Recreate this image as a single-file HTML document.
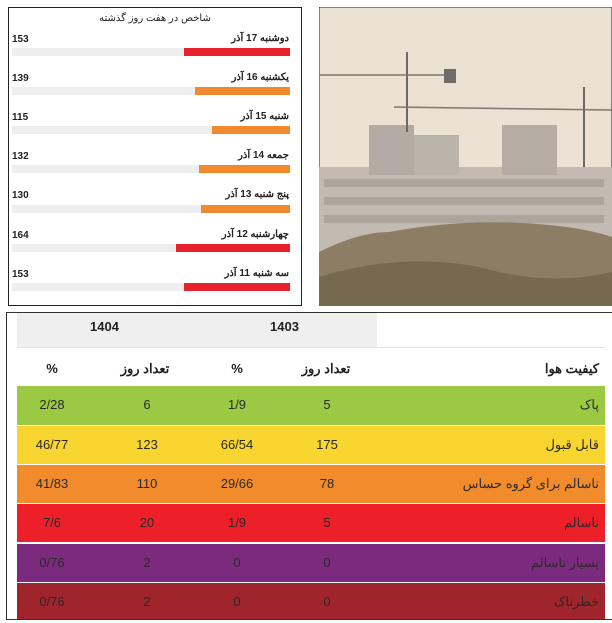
<!DOCTYPE html>
<html><head><meta charset="utf-8"><style>
*{margin:0;padding:0;box-sizing:border-box}
body{width:612px;height:623px;background:#fff;position:relative;overflow:hidden;font-family:"Liberation Sans","Noto Sans CJK SC",sans-serif;color:#222}
.abs{position:absolute}
#left{left:8px;top:7px;width:294px;height:299px;border:1px solid #222}
.lbl{position:absolute;font-size:10px;font-weight:bold;color:#222}
.track{position:absolute;left:4px;width:278px;height:8px;background:#eeeeee}
.bar{position:absolute;right:0;top:0;height:8px}
.tbl{left:6px;top:312px;width:610px;height:308px;border-left:1px solid #333;border-bottom:1px solid #333;border-top:1px solid #333}
.row{position:absolute;left:17px;width:588px;height:38px;font-size:13px;color:#2a2a2a}
.row span{position:absolute;top:11px;transform:translateX(-50%)}
.row .nm{right:6px;transform:none;direction:rtl}
</style></head><body>
<div id="left" class="abs">
<div class="lbl" style="left:0;width:292px;text-align:center;top:5px;font-weight:normal;direction:rtl">شاخص در هفت روز گذشته</div>
</div>
<div class="abs" style="left:0;top:0;width:310px;height:310px">
 <div class="lbl" style="left:12px;top:34px">153</div><div class="lbl" style="right:21px;top:33px;direction:rtl">دوشنبه 17 آذر</div>
 <div class="track" style="left:12px;top:48px"><div class="bar" style="width:106px;background:#e8202a"></div></div>
 <div class="lbl" style="left:12px;top:73px">139</div><div class="lbl" style="right:21px;top:72px;direction:rtl">یکشنبه 16 آذر</div>
 <div class="track" style="left:12px;top:87px"><div class="bar" style="width:95px;background:#f08a2c"></div></div>
 <div class="lbl" style="left:12px;top:112px">115</div><div class="lbl" style="right:21px;top:111px;direction:rtl">شنبه 15 آذر</div>
 <div class="track" style="left:12px;top:126px"><div class="bar" style="width:78px;background:#f08a2c"></div></div>
 <div class="lbl" style="left:12px;top:151px">132</div><div class="lbl" style="right:21px;top:150px;direction:rtl">جمعه 14 آذر</div>
 <div class="track" style="left:12px;top:165px"><div class="bar" style="width:91px;background:#f08a2c"></div></div>
 <div class="lbl" style="left:12px;top:190px">130</div><div class="lbl" style="right:21px;top:189px;direction:rtl">پنج شنبه 13 آذر</div>
 <div class="track" style="left:12px;top:205px"><div class="bar" style="width:89px;background:#f08a2c"></div></div>
 <div class="lbl" style="left:12px;top:230px">164</div><div class="lbl" style="right:21px;top:229px;direction:rtl">چهارشنبه 12 آذر</div>
 <div class="track" style="left:12px;top:244px"><div class="bar" style="width:114px;background:#e8202a"></div></div>
 <div class="lbl" style="left:12px;top:269px">153</div><div class="lbl" style="right:21px;top:268px;direction:rtl">سه شنبه 11 آذر</div>
 <div class="track" style="left:12px;top:283px"><div class="bar" style="width:106px;background:#e8202a"></div></div>
</div>
<svg class="abs" style="left:319px;top:7px" width="293" height="299" viewBox="0 0 293 299">
<rect width="293" height="299" fill="#ebe2d4" stroke="#222" stroke-width="1"/>
<rect x="0" y="160" width="293" height="110" fill="#c3bbb1"/>
<rect x="50" y="118" width="45" height="50" fill="#b3aca4"/>
<rect x="95" y="128" width="45" height="40" fill="#bbb4ab"/>
<rect x="183" y="118" width="55" height="50" fill="#b5ada4"/>
<g fill="#aca59d"><rect x="5" y="172" width="280" height="8"/><rect x="5" y="190" width="280" height="8"/><rect x="5" y="208" width="280" height="8"/></g>
<g stroke="#6c6a66" stroke-width="2" fill="none"><line x1="88" y1="45" x2="88" y2="125"/><line x1="265" y1="80" x2="265" y2="160"/></g>
<g stroke="#7c7872" stroke-width="1.5"><line x1="0" y1="68" x2="135" y2="68"/><line x1="75" y1="100" x2="293" y2="103"/></g>
<rect x="125" y="62" width="12" height="14" fill="#6f6b66"/>
<path d="M0 299 L0 245 Q40 225 70 225 Q150 210 230 218 Q270 222 293 230 L293 299 Z" fill="#8d7d64"/>
<path d="M0 299 L0 270 Q80 245 160 260 Q230 280 293 265 L293 299Z" fill="#76694f"/>
</svg>
<div class="abs tbl"></div>
<div class="abs" style="left:17px;top:313px;width:360px;height:34px;background:#efefef"></div>
<div class="abs" style="left:90px;top:319px;font-size:13px;font-weight:bold">1404</div>
<div class="abs" style="left:270px;top:319px;font-size:13px;font-weight:bold">1403</div>
<div class="abs" style="left:17px;top:347px;width:588px;height:1px;background:#e4e4e4"></div>
<div class="row" style="top:350px;font-weight:bold;color:#222"><span style="left:35px">%</span><span style="left:128px">تعداد روز</span><span style="left:220px">%</span><span style="left:309px">تعداد روز</span><span class="nm">کیفیت هوا</span></div>
<div class="row" style="top:386px;height:39px;background:#9bc944"><span style="left:35px">2/28</span><span style="left:130px">6</span><span style="left:220px">1/9</span><span style="left:310px">5</span><span class="nm">پاک</span></div>
<div class="row" style="top:426px;background:#f9d62f"><span style="left:35px">46/77</span><span style="left:130px">123</span><span style="left:220px">66/54</span><span style="left:310px">175</span><span class="nm">قابل قبول</span></div>
<div class="row" style="top:465px;background:#f28b2b"><span style="left:35px">41/83</span><span style="left:130px">110</span><span style="left:220px">29/66</span><span style="left:310px">78</span><span class="nm">ناسالم برای گروه حساس</span></div>
<div class="row" style="top:504px;background:#ed1f29"><span style="left:35px">7/6</span><span style="left:130px">20</span><span style="left:220px">1/9</span><span style="left:310px">5</span><span class="nm">ناسالم</span></div>
<div class="row" style="top:544px;background:#7c2a7d"><span style="left:35px">0/76</span><span style="left:130px">2</span><span style="left:220px">0</span><span style="left:310px">0</span><span class="nm">بسیار ناسالم</span></div>
<div class="row" style="top:583px;height:36px;background:#a0242b"><span style="left:35px">0/76</span><span style="left:130px">2</span><span style="left:220px">0</span><span style="left:310px">0</span><span class="nm">خطرناک</span></div>
</body></html>
